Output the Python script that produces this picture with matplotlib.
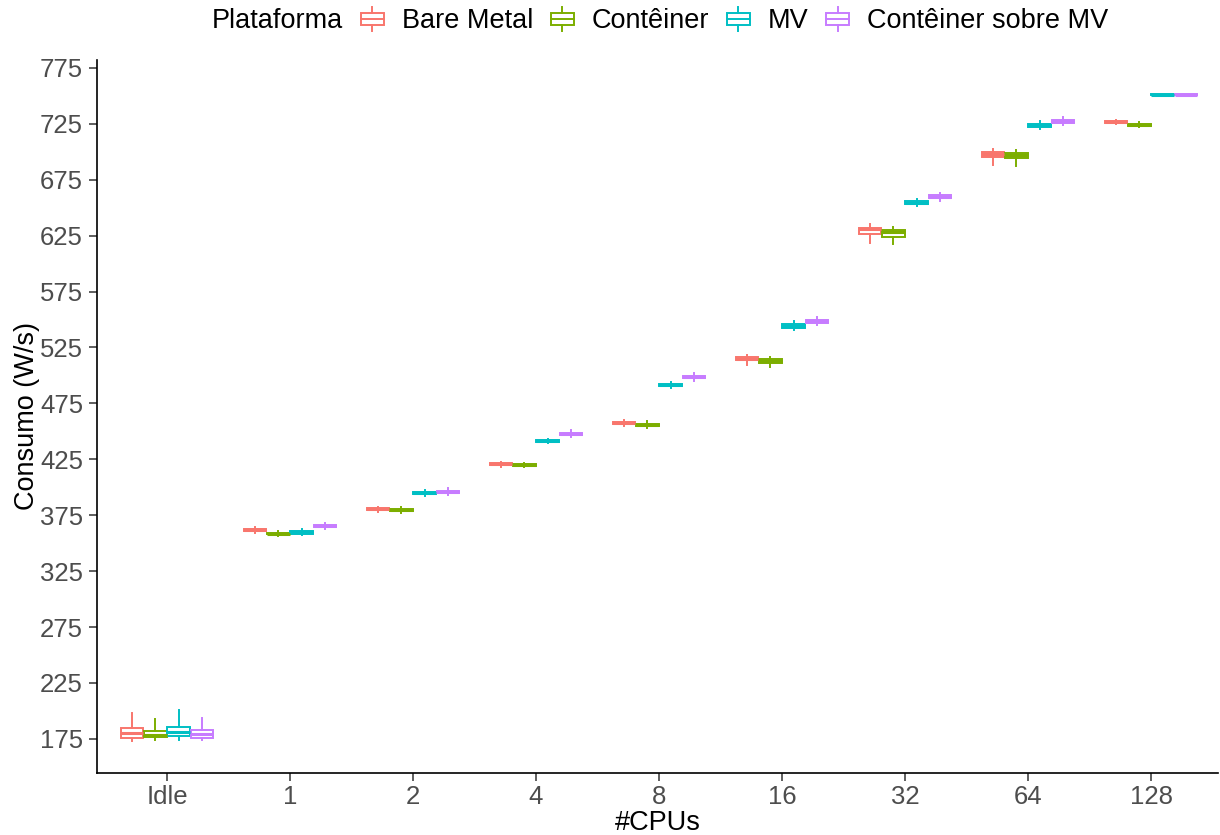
import matplotlib
matplotlib.use('Agg')
import matplotlib.pyplot as plt
from matplotlib.patches import Rectangle, Patch
from matplotlib.lines import Line2D
from matplotlib.legend_handler import HandlerBase

plt.rcParams['font.family'] = ['Liberation Sans', 'DejaVu Sans']

grupos = ['Idle', '1', '2', '4', '8', '16', '32', '64', '128']
plataformas = ['Bare Metal', 'Contêiner', 'MV', 'Contêiner sobre MV']
cores = ['#F8766D', '#7CAE00', '#00BFC4', '#C77CFF']

# resumo dos boxplots (W/s)
bm_lo = [173.5, 359.2, 377.8, 418.5, 454.7, 509.6, 618.7, 688.5, 725.0]
bm_q1 = [176.2, 360.9, 379.8, 420.3, 456.3, 513.5, 626.5, 695.3, 726.0]
bm_med = [180.3, 361.6, 380.5, 421.0, 457.2, 514.8, 630.6, 698.3, 726.8]
bm_q3 = [184.5, 362.4, 381.2, 421.7, 458.1, 516.2, 632.0, 699.7, 727.6]
bm_hi = [198.2, 364.6, 382.4, 423.0, 459.7, 518.5, 635.0, 702.2, 728.6]

ct_lo = [173.8, 356.0, 377.4, 418.0, 453.4, 507.5, 617.2, 687.0, 722.0]
ct_q1 = [176.8, 357.8, 378.9, 419.3, 455.0, 511.1, 624.0, 694.5, 723.3]
ct_med = [178.8, 358.5, 379.6, 420.0, 455.8, 512.5, 628.5, 697.3, 724.2]
ct_q3 = [181.8, 359.3, 380.3, 420.7, 456.6, 514.4, 629.9, 699.2, 725.0]
ct_hi = [192.8, 361.3, 382.1, 421.8, 458.8, 516.7, 632.6, 701.3, 726.2]

mv_lo = [173.8, 356.9, 392.3, 439.5, 488.6, 540.3, 651.3, 720.3, 750.0]
mv_q1 = [177.4, 358.6, 393.6, 440.6, 490.2, 542.0, 653.1, 722.1, 750.6]
mv_med = [181.0, 359.7, 394.5, 441.4, 491.2, 544.0, 654.4, 723.5, 751.0]
mv_q3 = [186.0, 360.7, 395.4, 442.2, 492.2, 545.9, 655.5, 724.8, 751.4]
mv_hi = [200.6, 363.1, 397.3, 443.2, 493.8, 548.5, 657.6, 727.7, 752.0]

cmv_lo = [173.8, 362.8, 393.4, 444.5, 495.1, 545.0, 655.8, 723.9, 750.0]
cmv_q1 = [175.9, 364.5, 395.2, 446.9, 497.5, 546.8, 658.5, 725.9, 750.6]
cmv_med = [179.7, 365.2, 396.1, 447.8, 498.4, 548.3, 659.6, 727.3, 751.0]
cmv_q3 = [183.3, 366.0, 397.0, 448.7, 499.4, 549.7, 660.9, 728.6, 751.4]
cmv_hi = [193.7, 367.6, 399.7, 451.1, 501.9, 552.1, 663.3, 731.0, 752.0]

series = [
    (bm_lo, bm_q1, bm_med, bm_q3, bm_hi),
    (ct_lo, ct_q1, ct_med, ct_q3, ct_hi),
    (mv_lo, mv_q1, mv_med, mv_q3, mv_hi),
    (cmv_lo, cmv_q1, cmv_med, cmv_q3, cmv_hi),
]


class BoxKey(HandlerBase):
    def create_artists(self, legend, orig_handle, xdescent, ydescent,
                       width, height, fontsize, trans):
        c = orig_handle.get_edgecolor()
        x0, y0 = -xdescent, -ydescent
        b0, b1 = 0.25, 0.75
        box = Rectangle((x0 + 0.04 * width, y0 + b0 * height), 0.92 * width, (b1 - b0) * height,
                        facecolor='white', edgecolor=c, lw=1.4, transform=trans)
        med = Line2D([x0 + 0.04 * width, x0 + 0.96 * width], [y0 + 0.5 * height] * 2,
                     color=c, lw=1.4, transform=trans)
        w1 = Line2D([x0 + 0.5 * width] * 2, [y0 - 0.05 * height, y0 + b0 * height],
                    color=c, lw=1.4, transform=trans)
        w2 = Line2D([x0 + 0.5 * width] * 2, [y0 + b1 * height, y0 + 1.05 * height],
                    color=c, lw=1.4, transform=trans)
        return [box, med, w1, w2]


fig = plt.figure(figsize=(12.2, 8.35), dpi=100)
ax = fig.add_axes([97 / 1220, 62 / 835, 1121 / 1220, 713 / 835])

deslocs = [-0.28125, -0.09375, 0.09375, 0.28125]
for k, (lo, q1, med, q3, hi) in enumerate(series):
    stats = []
    for i in range(len(grupos)):
        stats.append({'whislo': lo[i], 'q1': q1[i], 'med': med[i], 'q3': q3[i],
                      'whishi': hi[i], 'fliers': []})
    pos = [i + 1 + deslocs[k] for i in range(len(grupos))]
    ax.bxp(stats, positions=pos, widths=0.18, patch_artist=True, showcaps=False,
           showfliers=False, manage_ticks=False,
           boxprops=dict(facecolor='white', edgecolor=cores[k], linewidth=1.4),
           medianprops=dict(color=cores[k], linewidth=2.2, solid_capstyle='butt'),
           whiskerprops=dict(color=cores[k], linewidth=1.4))

ax.set_xlim(1 - 70 / 123, 1 + 1051 / 123)
ax.set_ylim(144.5, 782)
ax.set_xticks(range(1, len(grupos) + 1))
ax.set_xticklabels(grupos)
ax.set_yticks(range(175, 776, 50))
for s in ['top', 'right']:
    ax.spines[s].set_visible(False)
for s in ['left', 'bottom']:
    ax.spines[s].set_linewidth(1.2)
ax.tick_params(axis='both', labelsize=18.5, labelcolor='#4D4D4D', color='#333333',
               length=6, width=1.1, pad=4)
ax.tick_params(axis='x', pad=3)
ax.set_xlabel('#CPUs', fontsize=19.5, labelpad=0.5)
ax.set_ylabel('Consumo (W/s)', fontsize=19.5, labelpad=0)

fig.text(212 / 1220, 1 - 21 / 835, 'Plataforma', fontsize=19.5, ha='left', va='center')
handles = [Patch(edgecolor=c, facecolor='white') for c in cores]
fig.legend(handles, plataformas, handler_map={Patch: BoxKey()}, ncol=4, frameon=False,
           fontsize=19.5, handlelength=0.92, handleheight=0.9, handletextpad=0.62,
           columnspacing=0.62, loc='center left', bbox_to_anchor=(360 / 1220, 1 - 21 / 835),
           borderaxespad=0, borderpad=0)

fig.savefig('out.png', dpi=100)
